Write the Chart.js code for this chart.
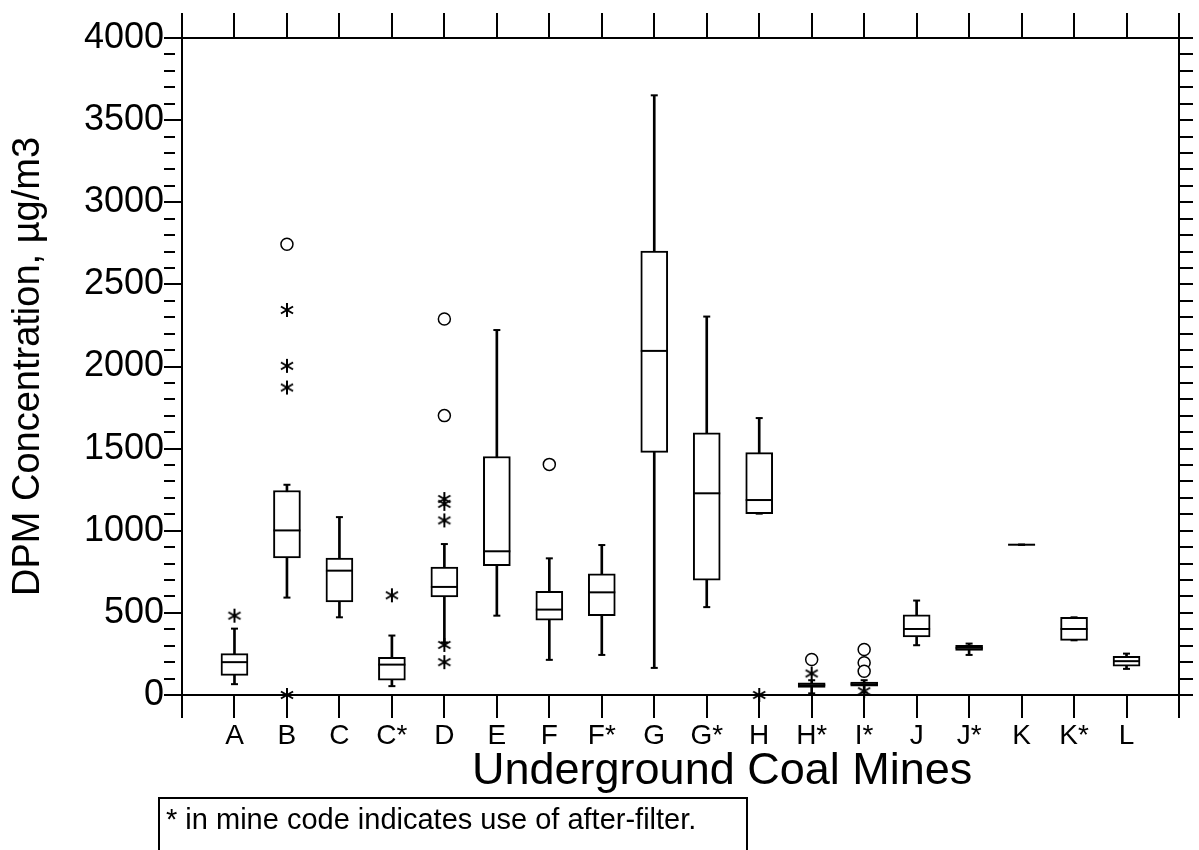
<!DOCTYPE html>
<html>
<head>
<meta charset="utf-8">
<title>DPM Concentration in Underground Coal Mines</title>
<script src="https://cdn.jsdelivr.net/npm/chart.js@4.4.1/dist/chart.umd.min.js"></script>
<style>
  body { margin: 0; background: #fff; }
  #wrap { position: relative; width: 1199px; height: 850px; overflow: hidden; font-family: 'Liberation Sans', Arial, sans-serif; color: #000; }
  #xtitle { position: absolute; left: 472px; top: 746px; font-size: 45px; line-height: 1; white-space: nowrap; }
  #note {
    position: absolute; left: 158px; top: 797px; width: 590px; height: 70px;
    border: 2px solid #000; border-bottom: none; box-sizing: border-box;
    padding: 3px 6px; font-size: 29px; line-height: 1.2; white-space: nowrap;
  }
</style>
</head>
<body>
<div id="wrap">
  <canvas id="chart" width="1199" height="850"></canvas>
  <div id="xtitle">Underground Coal Mines</div>
  <div id="note">* in mine code indicates use of after-filter.</div>
</div>
<script>
// mine codes, in order along the x axis
const mines = ['A', 'B', 'C', 'C*', 'D', 'E', 'F', 'F*', 'G', 'G*', 'H', 'H*', 'I*', 'J', 'J*', 'K', 'K*', 'L'];

// box plot summary, µg/m3
const whiskerLow  = [66, 593, 473, 54, 320, 483, 214, 244, 165, 535, 1104, 10, 15, 303, 244, 915, 333, 159];
const quart1      = [119, 834, 567, 90, 597, 788, 455, 483, 1477, 699, 1104, 46, 54, 354, 271, 915, 333, 175];
const medians     = [200, 1002, 757, 185, 658, 875, 520, 625, 2095, 1228, 1187, 60, 66, 402, 287, 915, 402, 206];
const quart3      = [252, 1245, 834, 230, 779, 1452, 631, 737, 2703, 1596, 1476, 74, 78, 488, 303, 915, 473, 236];
const whiskerHigh = [404, 1280, 1083, 362, 919, 2222, 832, 913, 3651, 2304, 1686, 90, 90, 575, 313, 915, 473, 252];

// extreme values (asterisks) and outliers (circles)
const starMine  = ['A', 'B', 'B', 'B', 'B', 'C*', 'D', 'D', 'D', 'D', 'D', 'H', 'H*', 'I*'];
const starValue = [483, 2344, 2004, 1872, 0, 607, 1193, 1164, 1063, 305, 200, 0, 131, 23];
const circleMine  = ['B', 'D', 'D', 'F', 'H*', 'I*', 'I*', 'I*'];
const circleValue = [2744, 2289, 1701, 1404, 216, 277, 196, 145];

const yTicksMajor = [0, 500, 1000, 1500, 2000, 2500, 3000, 3500, 4000];

const pos = m => mines.indexOf(m) + 1;

// six-armed asterisk used as point style for extremes
function makeAsterisk(size, lw) {
  const c = document.createElement('canvas');
  c.width = c.height = size;
  const g = c.getContext('2d');
  g.strokeStyle = '#000';
  g.lineWidth = lw;
  const r = size / 2 - 1;
  [90, 30, 150].forEach(a => {
    const rad = a * Math.PI / 180;
    g.beginPath();
    g.moveTo(size / 2 - Math.cos(rad) * r, size / 2 - Math.sin(rad) * r);
    g.lineTo(size / 2 + Math.cos(rad) * r, size / 2 + Math.sin(rad) * r);
    g.stroke();
  });
  return c;
}

Chart.defaults.color = '#000';
Chart.defaults.font.family = "'Liberation Sans', Arial, sans-serif";

const caps = [];
mines.forEach((m, i) => {
  caps.push({ x: i + 1, y: whiskerLow[i] });
  caps.push({ x: i + 1, y: whiskerHigh[i] });
});

const blackGrid = { drawOnChartArea: false, color: '#000', lineWidth: 2, offset: false };
const blackBorder = { display: true, color: '#000', width: 2 };

new Chart(document.getElementById('chart'), {
  type: 'bar',
  data: {
    datasets: [
      {
        // whisker stems
        data: mines.map((m, i) => ({ x: i + 1, y: [whiskerLow[i], whiskerHigh[i]] })),
        backgroundColor: '#000',
        borderWidth: 0,
        barThickness: 2,
        grouped: false,
        order: 5
      },
      {
        // boxes Q1..Q3
        data: mines.map((m, i) => ({ x: i + 1, y: [quart1[i], quart3[i]] })),
        backgroundColor: '#fff',
        borderColor: '#000',
        borderWidth: 2,
        borderSkipped: false,
        barThickness: 27,
        grouped: false,
        order: 4
      },
      {
        type: 'scatter',
        data: mines.map((m, i) => ({ x: i + 1, y: medians[i] })),
        pointStyle: 'line',
        radius: 13.5,
        borderColor: '#000',
        borderWidth: 2,
        order: 3
      },
      {
        type: 'scatter',
        data: caps,
        pointStyle: 'line',
        radius: 3.5,
        borderColor: '#000',
        borderWidth: 2,
        order: 3
      },
      {
        type: 'scatter',
        data: circleMine.map((m, i) => ({ x: pos(m), y: circleValue[i] })),
        pointStyle: 'circle',
        radius: 6,
        backgroundColor: '#fff',
        borderColor: '#000',
        borderWidth: 1.5,
        clip: false,
        order: 1
      },
      {
        type: 'scatter',
        data: starMine.map((m, i) => ({ x: pos(m), y: starValue[i] })),
        pointStyle: makeAsterisk(16, 2),
        clip: false,
        order: 1
      }
    ]
  },
  options: {
    responsive: false,
    animation: false,
    layout: { padding: { top: 0, right: 0, left: 0, bottom: 55 } },
    plugins: { legend: { display: false }, tooltip: { enabled: false } },
    scales: {
      x: {
        type: 'linear',
        position: 'bottom',
        min: 0,
        max: mines.length + 1,
        offset: false,
        afterFit: s => { s.height = 100; },
        grid: { ...blackGrid, tickLength: 23 },
        border: blackBorder,
        ticks: {
          stepSize: 1,
          autoSkip: false,
          padding: 1,
          font: { size: 28 },
          callback: v => mines[v - 1] || ''
        }
      },
      xTop: {
        type: 'linear',
        position: 'top',
        min: 0,
        max: mines.length + 1,
        offset: false,
        afterFit: s => { s.height = 38; },
        grid: { ...blackGrid, tickLength: 25 },
        border: blackBorder,
        ticks: { stepSize: 1, autoSkip: false, display: false }
      },
      y: {
        type: 'linear',
        position: 'left',
        min: 0,
        max: 4000,
        afterFit: s => { s.width = 182; },
        grid: {
          ...blackGrid,
          tickLength: 18,
          tickBorderDash: ctx => yTicksMajor.includes(ctx.tick.value) ? [] : [11, 40]
        },
        border: blackBorder,
        ticks: {
          stepSize: 100,
          autoSkip: false,
          padding: 0,
          font: { size: 36 },
          callback: v => yTicksMajor.includes(v) ? String(v) : ''
        },
        title: {
          display: true,
          text: 'DPM Concentration, µg/m3',
          font: { size: 38 },
          padding: { top: 6, bottom: 0 }
        }
      },
      yRight: {
        type: 'linear',
        position: 'right',
        min: 0,
        max: 4000,
        afterFit: s => { s.width = 20; },
        grid: { ...blackGrid, tickLength: 14 },
        border: blackBorder,
        ticks: { stepSize: 100, autoSkip: false, display: false }
      }
    }
  }
});
</script>
</body>
</html>
